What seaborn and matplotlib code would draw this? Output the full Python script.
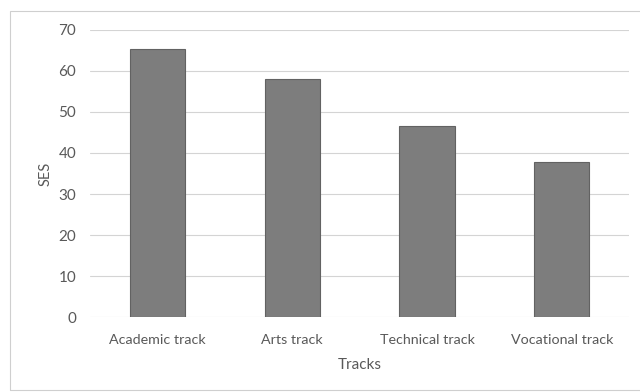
import matplotlib
matplotlib.use("Agg")
import matplotlib.pyplot as plt
import seaborn as sns
import pandas as pd
from matplotlib.patches import Rectangle

tracks = ["Academic track", "Arts track", "Technical track", "Vocational track"]
ses = [65.3, 58.0, 46.7, 37.9]
yticks = [0, 10, 20, 30, 40, 50, 60, 70]

sns.set_theme(style="white")
plt.rcParams["font.family"] = ["Lato", "DejaVu Sans"]

df = pd.DataFrame({"Tracks": tracks, "SES": ses})

fig = plt.figure(figsize=(6.4, 3.92), dpi=100)
ax = fig.add_axes([0.1406, 0.1913, 0.8424, 0.7322])

sns.barplot(data=df, x="Tracks", y="SES", color="#7d7d7d", width=0.41,
            edgecolor="#626262", linewidth=0.8, saturation=1, ax=ax, zorder=3)

ax.set_ylim(0, 70)
ax.set_yticks(yticks)
ax.set_xlim(-0.5, 3.5)
ax.yaxis.grid(True, color="#d4d4d4", linewidth=0.8, zorder=0)
ax.set_axisbelow(True)
for s in ax.spines.values():
    s.set_visible(False)
ax.tick_params(axis="both", length=0, colors="#595959")
ax.tick_params(axis="y", pad=10, labelsize=11)
ax.tick_params(axis="x", pad=12, labelsize=10.3)
ax.set_xlabel("Tracks", color="#595959", fontsize=11, labelpad=9)
ax.set_ylabel("SES", color="#595959", fontsize=10.5, labelpad=4)

# chart-area border
fig.patches.append(Rectangle((10 / 640, 0.005), 0.99, 1 - 11 / 392 - 0.005,
                             transform=fig.transFigure, fill=False,
                             edgecolor="#cfcfcf", linewidth=0.8))

fig.savefig("out.png", dpi=100)
